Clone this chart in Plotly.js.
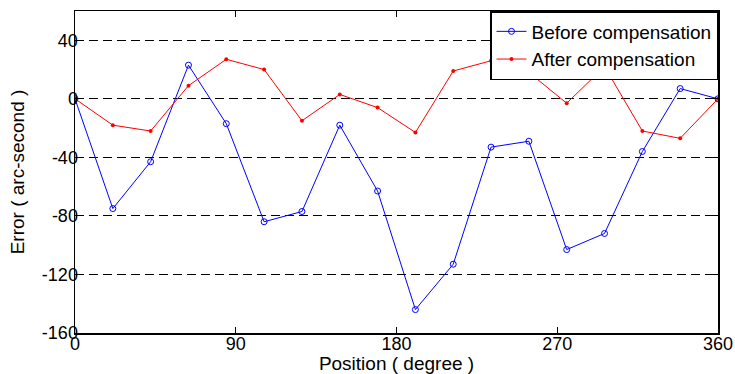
<!DOCTYPE html>
<html>
<head>
<meta charset="utf-8">
<script src="https://cdn.plot.ly/plotly-3.0.1.min.js"></script>
<style>html,body{margin:0;padding:0;background:#fff}#chart{width:735px;height:374px}</style>
</head>
<body>
<div id="chart"></div>
<script>
// Positions (degree): 18 equally spaced samples over 0..360
const positions = [0, 21.18, 42.35, 63.53, 84.71, 105.88, 127.06, 148.24, 169.41, 190.59, 211.76, 232.94, 254.12, 275.29, 296.47, 317.65, 338.82, 360];
const beforeComp = [0, -75, -43, 23, -17, -84, -77, -18, -63, -144, -113, -33, -29, -103, -92, -36, 7, 0];
const afterComp  = [0, -18, -22, 9, 27, 20, -15, 3, -6, -23, 19, 26, 18, -3, 22, -22, -27, 0];
const xTicks = [0, 90, 180, 270, 360];
const yTicks = [-160, -120, -80, -40, 0, 40];

const traces = [
  {x: positions, y: beforeComp, name: 'Before compensation', type: 'scatter', mode: 'lines+markers',
   line: {color: '#0000ff', width: 1}, marker: {symbol: 'circle-open', size: 6, color: '#0000ff', line: {width: 1}}},
  {x: positions, y: afterComp, name: 'After compensation', type: 'scatter', mode: 'lines+markers',
   line: {color: '#ff0000', width: 1}, marker: {symbol: 'circle', size: 4, color: '#ff0000'}}
];

const layout = {
  width: 735, height: 374,
  margin: {l: 75, r: 17, t: 11, b: 41},
  paper_bgcolor: '#fff', plot_bgcolor: '#fff',
  font: {family: 'Liberation Sans, Arial, sans-serif', size: 19, color: '#000'},
  showlegend: true,
  legend: {x: 1, xanchor: 'right', y: 1, yanchor: 'top', bgcolor: '#fff', bordercolor: '#000', borderwidth: 1.5,
           font: {size: 19}, tracegroupgap: 0, itemwidth: 30},
  xaxis: {
    range: [0, 360], tickvals: xTicks, ticktext: xTicks.map(String),
    showgrid: false, zeroline: false,
    showline: true, linecolor: '#000', linewidth: 1.5, mirror: 'ticks',
    ticks: 'inside', ticklen: 6, tickcolor: '#000', tickwidth: 1,
    ticklabelstandoff: -6, tickfont: {size: 18},
    title: {text: 'Position ( degree )', font: {size: 19}, standoff: 0}
  },
  yaxis: {
    range: [-160, 60], tickvals: yTicks, ticktext: yTicks.map(String),
    showgrid: true, gridcolor: '#000', gridwidth: 1, griddash: '9px,5px', zeroline: false,
    showline: true, linecolor: '#000', linewidth: 1.5, mirror: 'ticks',
    ticks: 'inside', ticklen: 6, tickcolor: '#000', tickwidth: 1,
    ticklabelstandoff: -8, tickfont: {size: 18},
    title: {text: 'Error ( arc-second )', font: {size: 19}, standoff: 12}
  }
};

Plotly.newPlot('chart', traces, layout, {displayModeBar: false, staticPlot: true});
</script>
</body>
</html>
